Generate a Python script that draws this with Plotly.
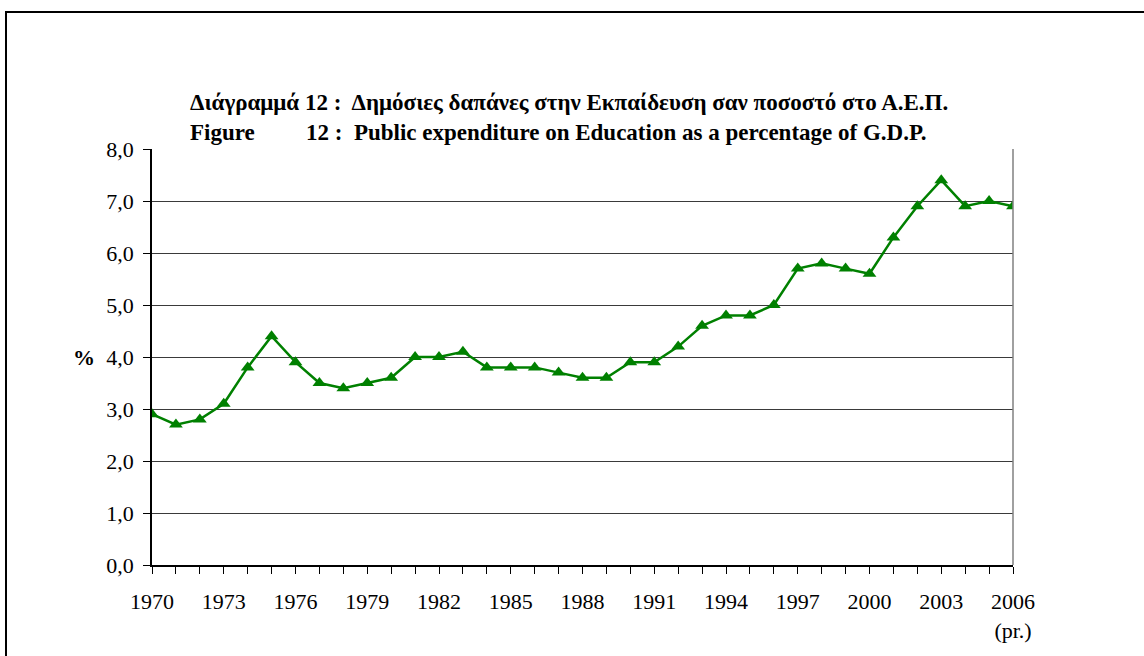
import plotly.graph_objects as go

# -- Data --
years = list(range(1970, 2007))
values = [2.9, 2.7, 2.8, 3.1, 3.8, 4.4, 3.9, 3.5, 3.4, 3.5,
          3.6, 4.0, 4.0, 4.1, 3.8, 3.8, 3.8, 3.7, 3.6, 3.6,
          3.9, 3.9, 4.2, 4.6, 4.8, 4.8, 5.0, 5.7, 5.8, 5.7,
          5.6, 6.3, 6.9, 7.4, 6.9, 7.0, 6.9]

label_years = list(range(1970, 2007, 3))
label_text = [str(y) for y in label_years[:-1]] + ["2006<br>(pr.)"]

y_ticks = [0, 1, 2, 3, 4, 5, 6, 7, 8]
y_text = ["0,0", "1,0", "2,0", "3,0", "4,0", "5,0", "6,0", "7,0", "8,0"]

title_gr = "Διάγραμμά 12 :\u00a0 Δημόσιες δαπάνες στην Εκπαίδευση σαν ποσοστό στο Α.Ε.Π."
title_en_lbl = "Figure"
title_en = "12 :\u00a0 Public expenditure on Education as a percentage of G.D.P."

# -- Layout geometry (pixels) --
W, H = 1144, 656
L, R, T, B = 152, 1013, 149, 565
FONT = "Liberation Serif, Times New Roman, serif"
GREEN = "#008000"


def px(x):
    return (x - L) / (R - L)


def py(y):
    return (B - y) / (B - T)


fig = go.Figure()
fig.add_trace(go.Scatter(
    x=years, y=values, mode="lines+markers",
    line=dict(color=GREEN, width=2.5),
    marker=dict(symbol="triangle-up", size=12, color=GREEN),
    showlegend=False,
))

title_font = dict(family=FONT, size=23, color="black")
annotations = [
    dict(text="<b>%s</b>" % title_gr, x=px(188), y=py(103)),
    dict(text="<b>%s</b>" % title_en_lbl, x=px(188), y=py(133)),
    dict(text="<b>%s</b>" % title_en, x=px(304), y=py(133)),
]
for a in annotations:
    a.update(xref="paper", yref="paper", xanchor="left", yanchor="middle",
             showarrow=False, font=title_font)
annotations.append(dict(text="<b>%</b>", x=px(97), y=py(357), xref="paper", yref="paper",
                        xanchor="right", yanchor="middle", showarrow=False,
                        font=dict(family=FONT, size=22, color="black")))

fig.update_layout(
    width=W, height=H,
    margin=dict(l=L, r=W - R, t=T, b=H - B),
    paper_bgcolor="white", plot_bgcolor="white",
    font=dict(family=FONT, size=22, color="black"),
    annotations=annotations,
    shapes=[
        # outer frame
        dict(type="rect", xref="paper", yref="paper",
             x0=px(6), x1=px(1160), y0=py(12), y1=py(670),
             line=dict(color="black", width=2)),
        # right plot-area border
        dict(type="line", xref="paper", yref="paper", x0=1, x1=1, y0=0, y1=1,
             line=dict(color="#808080", width=1.5)),
    ],
)

fig.update_xaxes(
    range=[1970, 2006], tickvals=label_years, ticktext=label_text,
    showgrid=False, zeroline=False,
    showline=True, linecolor="black", linewidth=1.5,
    ticks="outside", ticklen=7, tickcolor="black",
    ticklabelstandoff=9,
    minor=dict(dtick=1, tick0=1970, ticks="outside", ticklen=7, tickcolor="black", showgrid=False),
)
fig.update_yaxes(
    range=[0, 8], tickvals=y_ticks, ticktext=y_text,
    showgrid=True, gridcolor="#3a3a3a", gridwidth=1, zeroline=False,
    showline=True, linecolor="black", linewidth=1.5,
    ticks="outside", ticklen=7, tickcolor="black",
    ticklabelstandoff=5,
)

# drop the page's default body margin so the figure sits at the window origin
fig.write_html("out.html", config={"displayModeBar": False},
               post_script="document.body.style.margin = '0';")
